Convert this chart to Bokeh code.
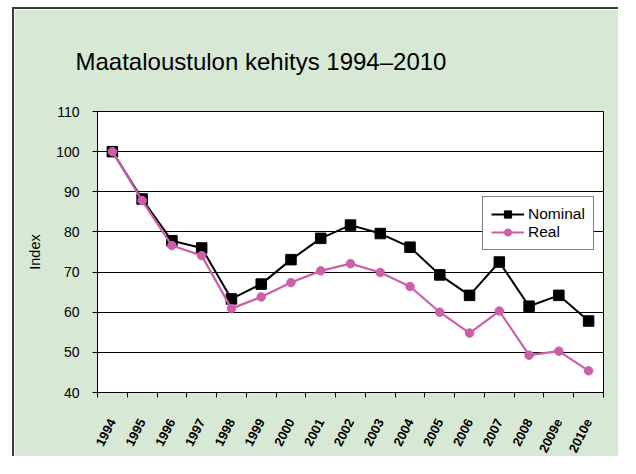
import math
from bokeh.plotting import figure
from bokeh.models import FixedTicker, Legend, LegendItem, Range1d, Title
from bokeh.embed import file_html
from bokeh.resources import INLINE

years = ["1994", "1995", "1996", "1997", "1998", "1999", "2000", "2001", "2002",
         "2003", "2004", "2005", "2006", "2007", "2008", "2009e", "2010e"]
nominal = [100, 88.2, 77.8, 76.0, 63.3, 67.0, 73.1, 78.4, 81.7, 79.6, 76.2, 69.3,
           64.2, 72.5, 61.5, 64.2, 57.8]
real = [100, 87.8, 76.6, 74.1, 60.9, 63.8, 67.4, 70.3, 72.1, 69.9, 66.4, 60.0,
        54.8, 60.3, 49.3, 50.3, 45.4]
y_ticks = [40, 50, 60, 70, 80, 90, 100, 110]
title_text = "Maataloustulon kehitys 1994\u20132010"

FONT = "Liberation Sans"
GREEN = "#d7e8d5"
PINK = "#cc5fa8"

x = [i + 0.5 for i in range(len(years))]

p = figure(width=606, height=449, output_backend="svg", toolbar_location=None,
           x_range=Range1d(0, len(years)), y_range=Range1d(y_ticks[0], y_ticks[-1]),
           min_border_left=83, min_border_right=17, min_border_top=102,
           min_border_bottom=60)
p.styles = {"border-top": "2px solid #3c3c3c", "border-left": "2px solid #3c3c3c",
            "margin-left": "12px", "margin-top": "7px"}
p.background_fill_color = "white"
p.border_fill_color = GREEN
p.outline_line_color = "black"
p.outline_line_width = 1

title = Title(text=title_text, text_font=FONT, text_font_size="24px",
              text_font_style="normal", text_color="black",
              align="left", offset=-22, standoff=73)
p.add_layout(title, "above")

# y axis
p.yaxis.ticker = FixedTicker(ticks=y_ticks)
p.yaxis.axis_label = "Index"
p.yaxis.axis_label_text_font = FONT
p.yaxis.axis_label_text_font_size = "14.5px"
p.yaxis.axis_label_text_font_style = "normal"
p.yaxis.axis_label_text_color = "black"
p.yaxis.axis_label_standoff = 10
p.yaxis.major_label_text_font = FONT
p.yaxis.major_label_text_font_size = "14px"
p.yaxis.major_label_text_color = "black"
p.yaxis.major_tick_out = 5
p.yaxis.major_tick_in = 0
p.yaxis.minor_tick_line_color = None
p.yaxis.axis_line_color = "black"
p.yaxis.major_tick_line_color = "black"
p.yaxis.major_label_standoff = 13

# x axis
p.xaxis.ticker = FixedTicker(ticks=x, minor_ticks=list(range(len(years) + 1)))
p.xaxis.major_label_overrides = {xv: lab for xv, lab in zip(x, years)}
p.xaxis.major_tick_in = 0
p.xaxis.major_tick_out = 0
p.xaxis.minor_tick_in = 0
p.xaxis.minor_tick_out = 5
p.xaxis.minor_tick_line_color = "black"
p.xaxis.axis_line_color = "black"
p.xaxis.major_label_orientation = math.radians(63)
p.xaxis.major_label_text_font = FONT
p.xaxis.major_label_text_font_size = "13px"
p.xaxis.major_label_text_font_style = "bold"
p.xaxis.major_label_text_color = "black"
p.xaxis.major_label_standoff = 22

p.xgrid.visible = False
p.ygrid.ticker = FixedTicker(ticks=y_ticks)
p.ygrid.grid_line_color = "black"
p.ygrid.grid_line_width = 1

ln = p.line(x, nominal, line_color="black", line_width=2)
sn = p.scatter(x, nominal, marker="square", size=10.5, fill_color="black", line_color="black")
lr = p.line(x, real, line_color=PINK, line_width=2.2)
sr = p.scatter(x, real, marker="circle", size=8.5, fill_color=PINK, line_color=PINK)

legend = Legend(items=[LegendItem(label="Nominal", renderers=[ln, sn]),
                       LegendItem(label="Real", renderers=[lr, sr])],
                location=(385, 142), label_text_font=FONT, label_text_font_size="15.5px",
                label_text_color="black", border_line_color="black", border_line_width=1,
                background_fill_color="white", background_fill_alpha=1,
                glyph_width=33, glyph_height=18, spacing=0, padding=8, margin=0,
                label_standoff=4)
p.add_layout(legend)

open("out.html", "w").write(file_html(p, INLINE))
